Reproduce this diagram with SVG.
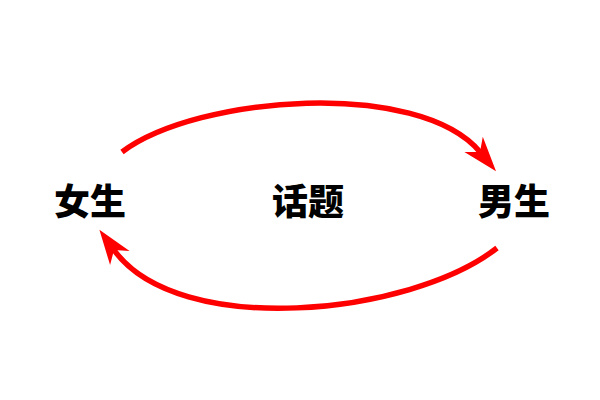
<svg xmlns="http://www.w3.org/2000/svg" width="600" height="400" viewBox="0 0 600 400">
<style>
  .lbl { font-family: "Noto Sans CJK SC", "Noto Sans", sans-serif; font-size: 36px; font-weight: 900; fill: #000; text-anchor: middle; }
  .conn { fill: none; stroke: #ff0000; stroke-width: 5.5; }
</style>
<defs>
  <marker id="arr" markerUnits="userSpaceOnUse" markerWidth="40" markerHeight="40" refX="0" refY="0" orient="auto" overflow="visible">
    <path d="M25,0 L-10,-12 L0,0 L-10,12 Z" fill="#ff0000"/>
  </marker>
</defs>
<rect width="600" height="400" fill="#fff"/>
<g id="connectors">
  <path class="conn" d="M122,152 C198,95 419,79 480,152" marker-end="url(#arr)"/>
  <path class="conn" d="M497,248 C410,316 178,339 114,250" marker-end="url(#arr)"/>
</g>
<g id="node-nv"><text class="lbl" x="90" y="215">女生</text></g>
<g id="node-huati"><text class="lbl" x="308" y="215">话题</text></g>
<g id="node-nan"><text class="lbl" x="514" y="215">男生</text></g>
</svg>
